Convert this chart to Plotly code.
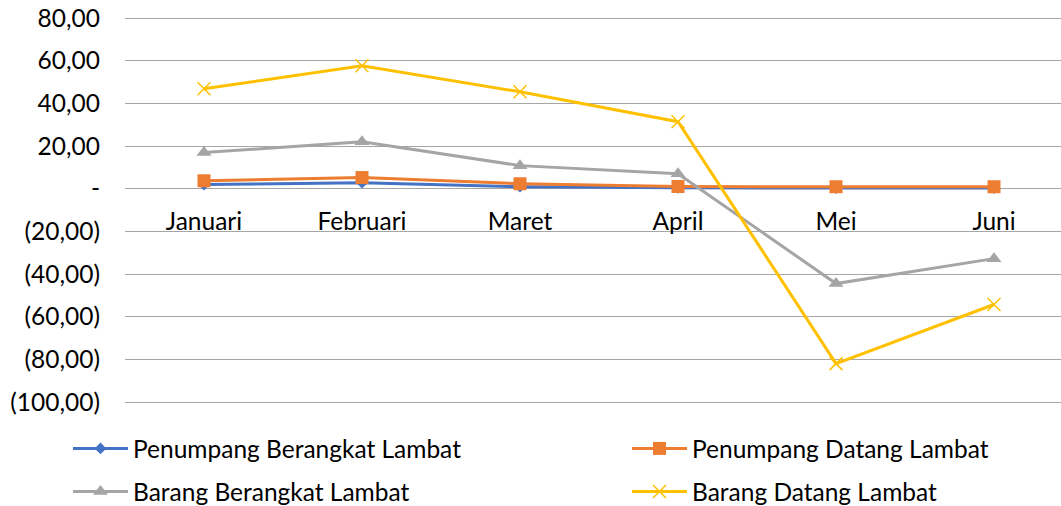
import plotly.graph_objects as go

months = ["Januari", "Februari", "Maret", "April", "Mei", "Juni"]
penumpang_berangkat = [1.9, 2.8, 0.9, 0.4, 0.3, 0.3]
penumpang_datang = [3.7, 5.2, 2.3, 1.0, 0.9, 0.9]
barang_berangkat = [16.9, 22.0, 10.8, 7.0, -44.5, -32.8]
barang_datang = [46.8, 57.6, 45.4, 31.4, -82.0, -54.3]
y_tickvals = [80, 60, 40, 20, 0, -20, -40, -60, -80, -100]
y_ticktext = ["80,00", "60,00", "40,00", "20,00", "-", "(20,00)", "(40,00)", "(60,00)", "(80,00)", "(100,00)"]

FONT = "Lato"
FS = 24.5
fig = go.Figure()
fig.add_trace(go.Scatter(x=months, y=penumpang_berangkat, name="Penumpang Berangkat Lambat",
                         mode="lines+markers", line=dict(color="#4472C4", width=3),
                         marker=dict(symbol="diamond", size=9, color="#4472C4"), legend="legend"))
fig.add_trace(go.Scatter(x=months, y=penumpang_datang, name="Penumpang Datang Lambat",
                         mode="lines+markers", line=dict(color="#ED7D31", width=3),
                         marker=dict(symbol="square", size=13, color="#ED7D31"), legend="legend2"))
fig.add_trace(go.Scatter(x=months, y=barang_berangkat, name="Barang Berangkat Lambat",
                         mode="lines+markers", line=dict(color="#A5A5A5", width=3),
                         marker=dict(symbol="triangle-up", size=13, color="#A5A5A5"), legend="legend3"))
fig.add_trace(go.Scatter(x=months, y=barang_datang, name="Barang Datang Lambat",
                         mode="lines+markers", line=dict(color="#FFC000", width=3),
                         marker=dict(symbol="x-thin-open", size=13, line=dict(color="#FFC000", width=1.5)),
                         legend="legend4"))

H = 506
T, B, L = 16, 0, 60
paper_h = H - T - B
paper_w = 1061 - L
plot_bottom_px = 404
plot_left_px = 125
# pixel scale: 18 -> 80, 402 -> -100 ; pad range by ~2px each side so edge gridlines show
scale = (402 - 18) / 180.0
pad = 2 / scale


def py(px):
    return (H - B - px) / paper_h


def px_(x):
    return (x - L) / paper_w


zero_pos = py(188)


def leg(x, y):
    return dict(orientation="h", x=px_(x), y=py(y), xanchor="left", yanchor="top",
                itemwidth=55, font=dict(family=FONT, size=FS, color="#000000"),
                bgcolor="rgba(0,0,0,0)", borderwidth=0)


fig.update_layout(
    width=1061, height=506,
    margin=dict(l=L, r=0, t=T, b=B, autoexpand=False),
    paper_bgcolor="white", plot_bgcolor="white",
    font=dict(family=FONT, size=FS, color="#000000"),
    xaxis=dict(range=[-0.5, 5.424], domain=[px_(plot_left_px), 1],
               showgrid=False, zeroline=False, showline=False, automargin=False,
               anchor="free", position=zero_pos, ticks="", ticklabelstandoff=16,
               tickfont=dict(family=FONT, size=FS)),
    yaxis=dict(range=[-100 - pad, 80 + pad], domain=[py(plot_bottom_px), 1],
               tickvals=y_tickvals, ticktext=y_ticktext, automargin=False,
               showgrid=True, gridcolor="#A6A6A6", gridwidth=1, zeroline=False,
               showline=False, ticks="", ticklabelstandoff=24,
               tickfont=dict(family=FONT, size=FS)),
    showlegend=True,
    legend=leg(68, 426),
    legend2=leg(627, 426),
    legend3=leg(68, 469),
    legend4=leg(627, 469),
)
fig.write_html("out.html", config={"displayModeBar": False},
               post_script="document.body.style.margin='0';document.body.style.overflow='hidden';")
